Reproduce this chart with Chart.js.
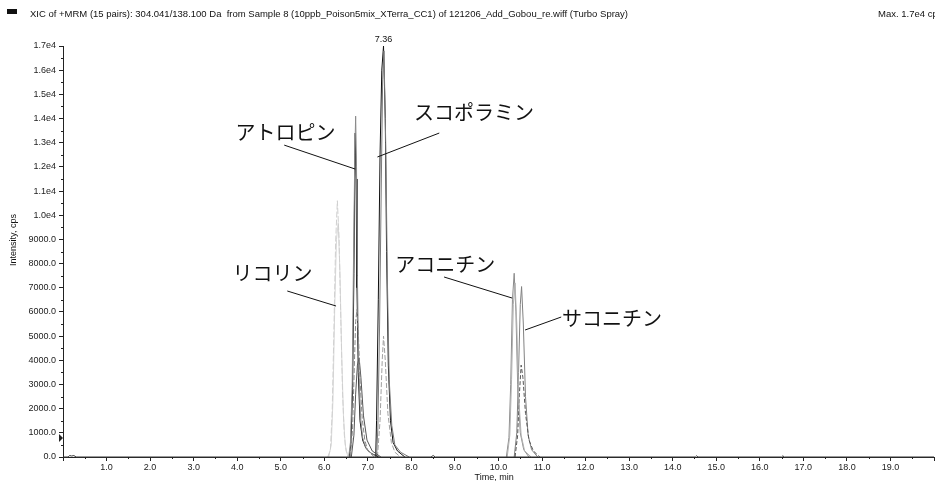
<!DOCTYPE html>
<html>
<head>
<meta charset="utf-8">
<title>XIC chromatogram</title>
<script src="https://cdn.jsdelivr.net/npm/chart.js@4.4.1/dist/chart.umd.min.js"></script>
<style>
  html, body { margin: 0; padding: 0; background: #fff; }
  canvas { display: block; }
</style>
</head>
<body>
<canvas id="xic" width="935" height="481"></canvas>
<script>
// header / axis texts
const headerText = 'XIC of +MRM (15 pairs): 304.041/138.100 Da  from Sample 8 (10ppb_Poison5mix_XTerra_CC1) of 121206_Add_Gobou_re.wiff (Turbo Spray)'
const maxText = 'Max. 1.7e4 cps'
const yTitle = 'Intensity, cps'
const xTitle = 'Time, min'
const peakLabel = '7.36'
const peakLabelAt = [7.36, 17000]

// tick values
const xTicks = [1, 2, 3, 4, 5, 6, 7, 8, 9, 10, 11, 12, 13, 14, 15, 16, 17, 18, 19]
const yTicks = [0, 1000, 2000, 3000, 4000, 5000, 6000, 7000, 8000, 9000, 10000, 11000, 12000, 13000, 14000, 15000, 16000, 17000]

// traces (time, min / intensity, cps)
const baseT = [0, 0.12, 0.15, 0.2, 0.25, 0.3, 6.0, 8.45, 8.5, 8.55, 12.0, 14.52, 14.55, 14.58, 16.5, 16.53, 16.56, 20]
const baseV = [0, 0, 60, 40, 60, 0, 0, 0, 60, 0, 0, 0, 50, 0, 0, 50, 0, 0]

const lycT = [6.08, 6.14, 6.18, 6.22, 6.26, 6.30, 6.34, 6.38, 6.42, 6.46, 6.50, 6.56]
const lycV = [0, 300, 1800, 5200, 8900, 10600, 9000, 5600, 2600, 900, 250, 0]
const lyc2T = [6.10, 6.16, 6.20, 6.24, 6.28, 6.32, 6.36, 6.40, 6.44, 6.48, 6.54]
const lyc2V = [0, 500, 2400, 6200, 9000, 9700, 7600, 4200, 1700, 500, 0]

const atrT = [6.56, 6.60, 6.64, 6.67, 6.70, 6.72, 6.74, 6.76, 6.79, 6.83, 6.88, 6.95, 7.05, 7.2]
const atrV = [0, 600, 3000, 8000, 12500, 14100, 12000, 7500, 3800, 1700, 800, 400, 200, 0]
const atr2T = [6.57, 6.61, 6.65, 6.68, 6.70, 6.71, 6.73, 6.75, 6.78, 6.82, 6.88, 6.96, 7.08, 7.25]
const atr2V = [0, 500, 2800, 7600, 12000, 13400, 11500, 7000, 3500, 1500, 700, 350, 150, 0]
const atr3T = [6.60, 6.65, 6.69, 6.72, 6.75, 6.78, 6.82, 6.87, 6.93, 7.0, 7.15]
const atr3V = [0, 1200, 3800, 5600, 6100, 5200, 3200, 1600, 700, 250, 0]
const atr4T = [6.62, 6.68, 6.72, 6.76, 6.80, 6.84, 6.90, 6.98, 7.1, 7.3]
const atr4V = [0, 900, 2600, 3800, 4100, 3300, 1700, 700, 250, 0]

const scoT = [7.18, 7.20, 7.24, 7.28, 7.32, 7.36, 7.40, 7.43, 7.47, 7.52, 7.58, 7.68, 7.85]
const scoV = [0, 1500, 6500, 12500, 16000, 17000, 14000, 8500, 3800, 1500, 600, 250, 0]
const sco2T = [7.20, 7.23, 7.27, 7.31, 7.34, 7.37, 7.41, 7.45, 7.49, 7.55, 7.62, 7.75, 7.95]
const sco2V = [0, 1200, 5500, 11500, 15600, 16800, 13000, 7200, 3200, 1300, 500, 200, 0]
const sco3T = [7.22, 7.28, 7.33, 7.36, 7.40, 7.46, 7.54, 7.62, 7.75]
const sco3V = [0, 1500, 4000, 5000, 4000, 1800, 600, 200, 0]

const acoT = [10.18, 10.24, 10.28, 10.32, 10.36, 10.40, 10.44, 10.50, 10.58, 10.70]
const acoV = [0, 800, 3000, 6500, 7600, 6000, 3000, 1000, 300, 0]
const aco2T = [10.20, 10.26, 10.30, 10.34, 10.38, 10.42, 10.46, 10.52, 10.60, 10.75]
const aco2V = [0, 900, 3200, 6300, 7200, 5500, 2600, 900, 250, 0]
const sakT = [10.36, 10.42, 10.46, 10.50, 10.53, 10.57, 10.62, 10.68, 10.76, 10.9]
const sakV = [0, 1000, 3500, 6300, 7050, 5500, 2500, 900, 300, 0]
const sak2T = [10.38, 10.44, 10.48, 10.52, 10.56, 10.62, 10.70, 10.80, 10.95]
const sak2V = [0, 900, 2600, 3800, 3300, 1800, 700, 250, 0]

// compound labels: text anchor (left, middle) and leader line, in data units
const labelNames = ['アトロピン', 'スコポラミン', 'リコリン', 'アコニチン', 'サコニチン']
const labelAt = [[3.96, 13440], [8.06, 14270], [3.89, 7610], [7.63, 7980], [11.46, 5750]]
const leaderFrom = [[5.08, 12900], [8.64, 13400], [5.15, 6866], [8.75, 7445], [11.44, 5790]]
const leaderTo = [[6.71, 11910], [7.22, 12410], [6.27, 6245], [10.31, 6576], [10.61, 5253]]

const pts = (t, v) => t.map((x, i) => ({ x, y: v[i] }))

const trace = (t, v, color, dash) => ({
    data: pts(t, v),
    borderColor: color,
    borderWidth: 1,
    borderDash: dash || [],
    pointRadius: 0,
    tension: 0,
    fill: false,
    clip: false,
})

const tickFont = { family: 'Liberation Sans', size: 9 }

const extras = {
    id: 'extras',
    afterDraw(chart) {
        const { ctx, chartArea, scales } = chart
        const xs = scales.x, ys = scales.y
        ctx.save()

        // minor ticks
        ctx.strokeStyle = '#222'
        ctx.lineWidth = 1
        ctx.beginPath()
        for (let v = 500; v < 17000; v += 1000) {
            let py = Math.round(ys.getPixelForValue(v)) + 0.5
            ctx.moveTo(chartArea.left - 2, py)
            ctx.lineTo(chartArea.left, py)
        }
        for (let t = 0.5; t < 20; t += 1) {
            let px = Math.round(xs.getPixelForValue(t)) + 0.5
            ctx.moveTo(px, chartArea.bottom)
            ctx.lineTo(px, chartArea.bottom + 2)
        }
        ctx.stroke()

        // threshold marker
        let mx = chartArea.left, my = ys.getPixelForValue(700)
        ctx.fillStyle = '#222'
        ctx.beginPath()
        ctx.moveTo(mx - 4, my - 6)
        ctx.lineTo(mx, my - 2)
        ctx.lineTo(mx - 4, my + 2)
        ctx.closePath()
        ctx.fill()

        // header
        ctx.fillStyle = '#111'
        ctx.fillRect(7, 9, 10, 5)
        ctx.font = '9.5px "Liberation Sans"'
        ctx.textBaseline = 'middle'
        ctx.textAlign = 'left'
        ctx.fillText(headerText, 30, 14)
        ctx.fillText(maxText, 878, 14)

        // peak apex label
        ctx.font = '9px "Liberation Sans"'
        ctx.textAlign = 'center'
        ctx.textBaseline = 'bottom'
        ctx.fillText(peakLabel, xs.getPixelForValue(peakLabelAt[0]), ys.getPixelForValue(peakLabelAt[1]) - 2)

        // axis titles
        ctx.textBaseline = 'middle'
        ctx.fillText(xTitle, xs.getPixelForValue(9.9), 478)
        ctx.save()
        ctx.translate(14, 240)
        ctx.rotate(-Math.PI / 2)
        ctx.fillText(yTitle, 0, 0)
        ctx.restore()

        // compound labels with leaders
        ctx.strokeStyle = '#111'
        ctx.lineWidth = 1
        ctx.font = '20px "Noto Sans CJK JP"'
        ctx.textAlign = 'left'
        ctx.textBaseline = 'middle'
        labelNames.forEach((name, i) => {
            ctx.fillText(name, xs.getPixelForValue(labelAt[i][0]), ys.getPixelForValue(labelAt[i][1]))
            ctx.beginPath()
            ctx.moveTo(xs.getPixelForValue(leaderFrom[i][0]), ys.getPixelForValue(leaderFrom[i][1]))
            ctx.lineTo(xs.getPixelForValue(leaderTo[i][0]), ys.getPixelForValue(leaderTo[i][1]))
            ctx.stroke()
        })
        ctx.restore()
    }
}

new Chart(document.getElementById('xic').getContext('2d'), {
    type: 'line',
    data: {
        datasets: [
            trace(baseT, baseV, '#333'),
            trace(lycT, lycV, '#cfcfcf', [6, 2]),
            trace(lyc2T, lyc2V, '#d8d8d8'),
            trace(atr3T, atr3V, '#888', [5, 2]),
            trace(atr4T, atr4V, '#555'),
            trace(atrT, atrV, '#8a8a8a'),
            trace(atr2T, atr2V, '#111'),
            trace(sco3T, sco3V, '#a0a0a0', [5, 2]),
            trace(sco2T, sco2V, '#7a7a7a'),
            trace(scoT, scoV, '#111'),
            trace(aco2T, aco2V, '#b0b0b0'),
            trace(acoT, acoV, '#8a8a8a'),
            trace(sak2T, sak2V, '#555', [4, 2]),
            trace(sakT, sakV, '#808080'),
        ]
    },
    options: {
        responsive: false,
        animation: false,
        layout: { padding: { top: 46, left: 0, right: 0, bottom: 0 } },
        plugins: {
            legend: { display: false },
            tooltip: { enabled: false },
        },
        scales: {
            x: {
                type: 'linear',
                min: 0,
                max: 20,
                afterFit(scale) { scale.height = 24 },
                afterBuildTicks(scale) { scale.ticks = [0, ...xTicks, 20].map(value => ({ value })) },
                border: { color: '#222', width: 1 },
                grid: { drawOnChartArea: false, tickLength: 4, color: '#222' },
                ticks: {
                    font: tickFont,
                    color: '#222',
                    padding: 1,
                    maxRotation: 0,
                    autoSkip: false,
                    callback: v => (v > 0 && v < 20) ? v.toFixed(1) : '',
                },
            },
            y: {
                min: 0,
                max: 17000,
                afterFit(scale) { scale.width = 63 },
                afterBuildTicks(scale) { scale.ticks = yTicks.map(value => ({ value })) },
                border: { color: '#222', width: 1 },
                grid: { drawOnChartArea: false, tickLength: 4, color: '#222' },
                ticks: {
                    font: tickFont,
                    color: '#222',
                    padding: 3,
                    autoSkip: false,
                    callback: v => v >= 10000 ? (v / 10000).toFixed(1) + 'e4' : v.toFixed(1),
                },
            },
        },
    },
    plugins: [extras],
})
</script>
</body>
</html>
